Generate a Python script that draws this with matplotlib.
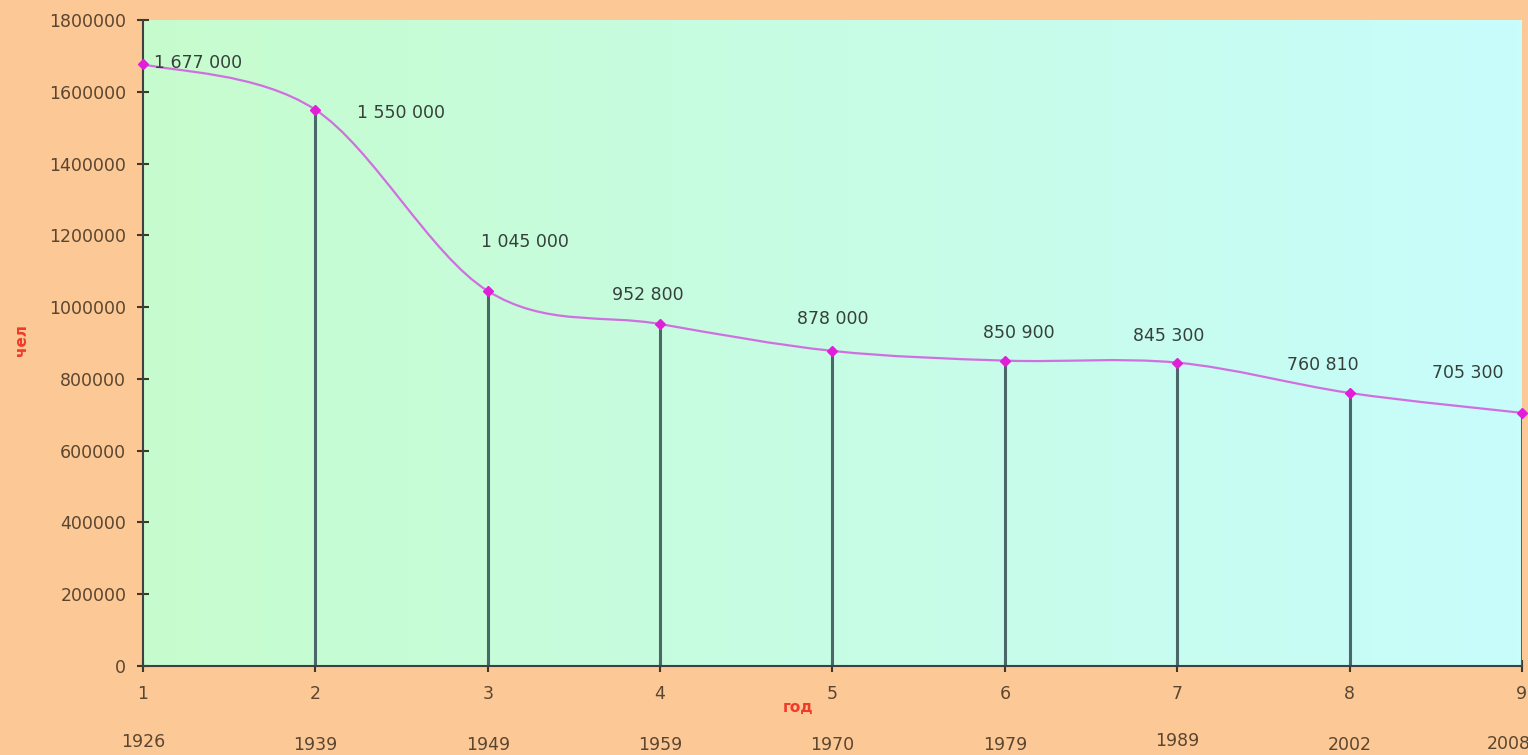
from matplotlib import pyplot as plt
from matplotlib.path import Path
from matplotlib.patches import PathPatch
import numpy as np

# data
idx = [1, 2, 3, 4, 5, 6, 7, 8, 9]
years = ["1926", "1939", "1949", "1959", "1970", "1979", "1989", "2002", "2008"]
people = [1677000, 1550000, 1045000, 952800, 878000, 850900, 845300, 760810, 705300]
labels = ["1 677 000", "1 550 000", "1 045 000", "952 800", "878 000",
          "850 900", "845 300", "760 810", "705 300"]
# label offsets in points (dx, dy)
lab_off = [(8, 1), (62, -2), (27, 35), (-9, 21), (0, 23), (10, 20), (-6, 19), (-19, 20), (-39, 29)]
year_dy = [-0.117, -0.123, -0.123, -0.123, -0.123, -0.123, -0.116, -0.123, -0.12]

plt.rcParams['font.family'] = ['DejaVu Sans']

fig = plt.figure(figsize=(15.28, 7.55), dpi=100)
fig.patch.set_facecolor("#fcc896")
ax = fig.add_axes([0.0936, 0.1179, 0.9024, 0.8556])

# gradient background of the plot area
grad = np.linspace(0, 1, 256).reshape(1, -1)
left_c = np.array([198, 252, 205]) / 255
right_c = np.array([200, 253, 252]) / 255
img = left_c[None, None, :] * (1 - grad[..., None]) + right_c[None, None, :] * grad[..., None]
ax.imshow(img, extent=[1, 9, 0, 1800000], aspect="auto", zorder=0)

# drop lines
ax.vlines(idx[1:], 0, people[1:], color="#4a6868", lw=2.2, zorder=2)

# smoothed line (bezier through points)
x = np.array(idx, float)
y = np.array(people, float)
verts = [(x[0], y[0])]
codes = [Path.MOVETO]
n = len(x)
for i in range(n - 1):
    p0 = np.array([x[max(i - 1, 0)], y[max(i - 1, 0)]])
    p1 = np.array([x[i], y[i]])
    p2 = np.array([x[i + 1], y[i + 1]])
    p3 = np.array([x[min(i + 2, n - 1)], y[min(i + 2, n - 1)]])
    c1 = p1 + (p2 - p0) / 6
    c2 = p2 - (p3 - p1) / 6
    verts += [tuple(c1), tuple(c2), tuple(p2)]
    codes += [Path.CURVE4] * 3
ax.add_patch(PathPatch(Path(verts, codes), fill=False, edgecolor="#d070e0", lw=1.6, zorder=3))
ax.plot(idx, people, linestyle="none", marker="D", ms=5, color="#e020d8", zorder=4, clip_on=False)

for i in range(n):
    ax.annotate(labels[i], (idx[i], people[i]), xytext=lab_off[i], textcoords="offset points",
                ha="left" if i == 0 else "center", va="center", fontsize=12.5, color="#36403a")

ax.set_xlim(1, 9)
ax.set_ylim(0, 1800000)
ax.set_yticks(np.arange(0, 1800001, 200000))
ax.ticklabel_format(axis="y", style="plain", useOffset=False)
ax.set_xticks(idx)
ax.tick_params(axis="both", direction="inout", length=8, width=1.5, color="#403828",
               labelsize=12.5, labelcolor="#5a4630")
ax.tick_params(axis="x", pad=10)
ax.tick_params(axis="y", pad=8)
for s in ["top", "right"]:
    ax.spines[s].set_visible(False)
for s in ["left", "bottom"]:
    ax.spines[s].set_color("#404040")
    ax.spines[s].set_linewidth(1.5)

# year row under the index numbers
for i in range(n):
    xi = idx[i] + (0.05 if i == n - 1 else 0)
    ax.text(xi, year_dy[i], years[i], transform=ax.get_xaxis_transform(),
            ha="right" if i == n - 1 else "center", va="center", fontsize=12.5, color="#5a4630")

ax.text(4.8, -0.065, "год", transform=ax.get_xaxis_transform(), ha="center", va="center",
        fontsize=11, color="#f03a2a", fontweight="bold")
fig.text(0.014, 0.55, "чел", rotation=90, ha="center", va="center",
         fontsize=11, color="#f03a2a", fontweight="bold")

fig.savefig("out.png", dpi=100, facecolor=fig.get_facecolor())
